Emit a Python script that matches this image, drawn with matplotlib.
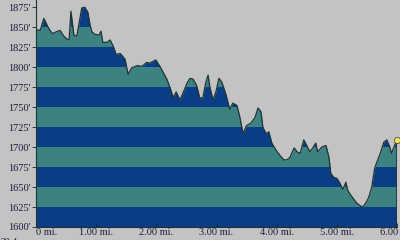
import matplotlib
matplotlib.use("Agg")
import matplotlib.pyplot as plt

# elevation profile, distance in miles, elevation in feet
dist = [0.00, 0.07, 0.13, 0.20, 0.27, 0.33, 0.40, 0.45, 0.50, 0.55, 0.58, 0.63, 0.68,
        0.73, 0.76, 0.81, 0.86, 0.90, 0.93, 0.98, 1.05, 1.08, 1.11, 1.18, 1.23, 1.28,
        1.33, 1.40, 1.48, 1.53, 1.59, 1.68, 1.76, 1.84, 1.89, 1.94, 1.99, 2.06, 2.11,
        2.18, 2.23, 2.28, 2.33, 2.39, 2.44, 2.51, 2.56, 2.61, 2.67, 2.72, 2.77, 2.82,
        2.86, 2.89, 2.94, 2.99, 3.04, 3.09, 3.16, 3.22, 3.27, 3.34, 3.39, 3.44, 3.50,
        3.57, 3.64, 3.69, 3.74, 3.77, 3.82, 3.87, 3.92, 3.99, 4.05, 4.12, 4.17, 4.22,
        4.29, 4.34, 4.39, 4.45, 4.50, 4.55, 4.60, 4.65, 4.68, 4.75, 4.82, 4.87, 4.90,
        4.95, 5.00, 5.05, 5.10, 5.15, 5.18, 5.23, 5.27, 5.33, 5.38, 5.43, 5.48, 5.53,
        5.58, 5.63, 5.68, 5.73, 5.78, 5.83, 5.88, 5.91, 5.96, 6.00]
elev = [1847, 1846, 1861, 1850, 1842, 1844, 1846, 1840, 1836, 1834, 1870, 1840, 1839,
        1861, 1874, 1875, 1869, 1852, 1844, 1841, 1840, 1845, 1831, 1831, 1834, 1827,
        1816, 1817, 1810, 1791, 1799, 1802, 1801, 1806, 1805, 1807, 1809, 1801, 1794,
        1784, 1774, 1762, 1769, 1759, 1767, 1780, 1786, 1785, 1777, 1762, 1761, 1780,
        1790, 1775, 1759, 1769, 1786, 1781, 1765, 1747, 1755, 1752, 1737, 1717, 1727,
        1730, 1737, 1749, 1744, 1725, 1717, 1719, 1705, 1696, 1690, 1684, 1684, 1687,
        1699, 1694, 1692, 1709, 1702, 1694, 1699, 1705, 1694, 1700, 1702, 1687, 1667,
        1662, 1661, 1655, 1647, 1656, 1646, 1640, 1636, 1630, 1627, 1625, 1630, 1637,
        1650, 1674, 1684, 1694, 1706, 1709, 1700, 1692, 1702, 1709]

yticks = [1600, 1625, 1650, 1675, 1700, 1725, 1750, 1775, 1800, 1825, 1850, 1875]
ylabels = ["1600'", "1625'", "1650'", "1675'", "1700'", "1725'", "1750'", "1775'",
           "1800'", "1825'", "1850'", "1875'"]
xticks = [0, 1, 2, 3, 4, 5, 6]
xlabels = ["0 mi.", "1.00 mi.", "2.00 mi.", "3.00 mi.", "4.00 mi.", "5.00 mi.", "6.00 mi."]

gray = "#c3c3c3"
dark = "#0a3d85"
teal = "#3c8280"
edge = "#1c3434"
txt = "#1a1e3a"

fig = plt.figure(figsize=(4, 2.4), dpi=100, facecolor=gray)
ax = fig.add_axes([0.09, 13 / 240, 0.9025, 227 / 240])
ax.set_facecolor(gray)

ytop = 1884
ax.set_xlim(0, 6.0)
ax.set_ylim(1600, ytop)

# alternating bands
for i, lo in enumerate(yticks):
    ax.axhspan(lo, lo + 25, color=dark if i % 2 == 0 else teal, lw=0, zorder=1)

# mask above profile
ax.fill_between(dist, elev, ytop + 10, color=gray, lw=0, zorder=2)
ax.plot(dist, elev, color=edge, lw=0.9, zorder=3)
ax.plot([dist[-1], dist[-1]], [1600, elev[-1]], color=edge, lw=1.2, zorder=3)
ax.plot(dist[-1], elev[-1], "o", ms=4.5, mfc="#f0e060", mec="#555533", mew=0.6,
        zorder=4, clip_on=False)

for s in ["top", "right"]:
    ax.spines[s].set_visible(False)
ax.spines["left"].set_color(edge)
ax.spines["bottom"].set_color(edge)

ax.set_yticks(yticks)
ax.set_yticklabels(ylabels, family="Liberation Serif", fontsize=7.5, color=txt)
ax.set_xticks(xticks)
ax.set_xticklabels(xlabels, family="Liberation Serif", fontsize=7.5, color=txt)
ax.tick_params(axis="y", length=3, width=0.6, pad=1, colors=txt)
ax.tick_params(axis="x", length=3, width=0.6, pad=1, colors=txt, direction="in")
ax.get_xticklabels()[0].set_ha("left")

# vertical exaggeration note, cut off at the bottom edge as in the reference
fig.text(0.002, -0.012, "20.4x", family="Liberation Serif", fontsize=7, color=txt,
         va="center", ha="left")

fig.savefig("out.png", dpi=100, facecolor=gray)
